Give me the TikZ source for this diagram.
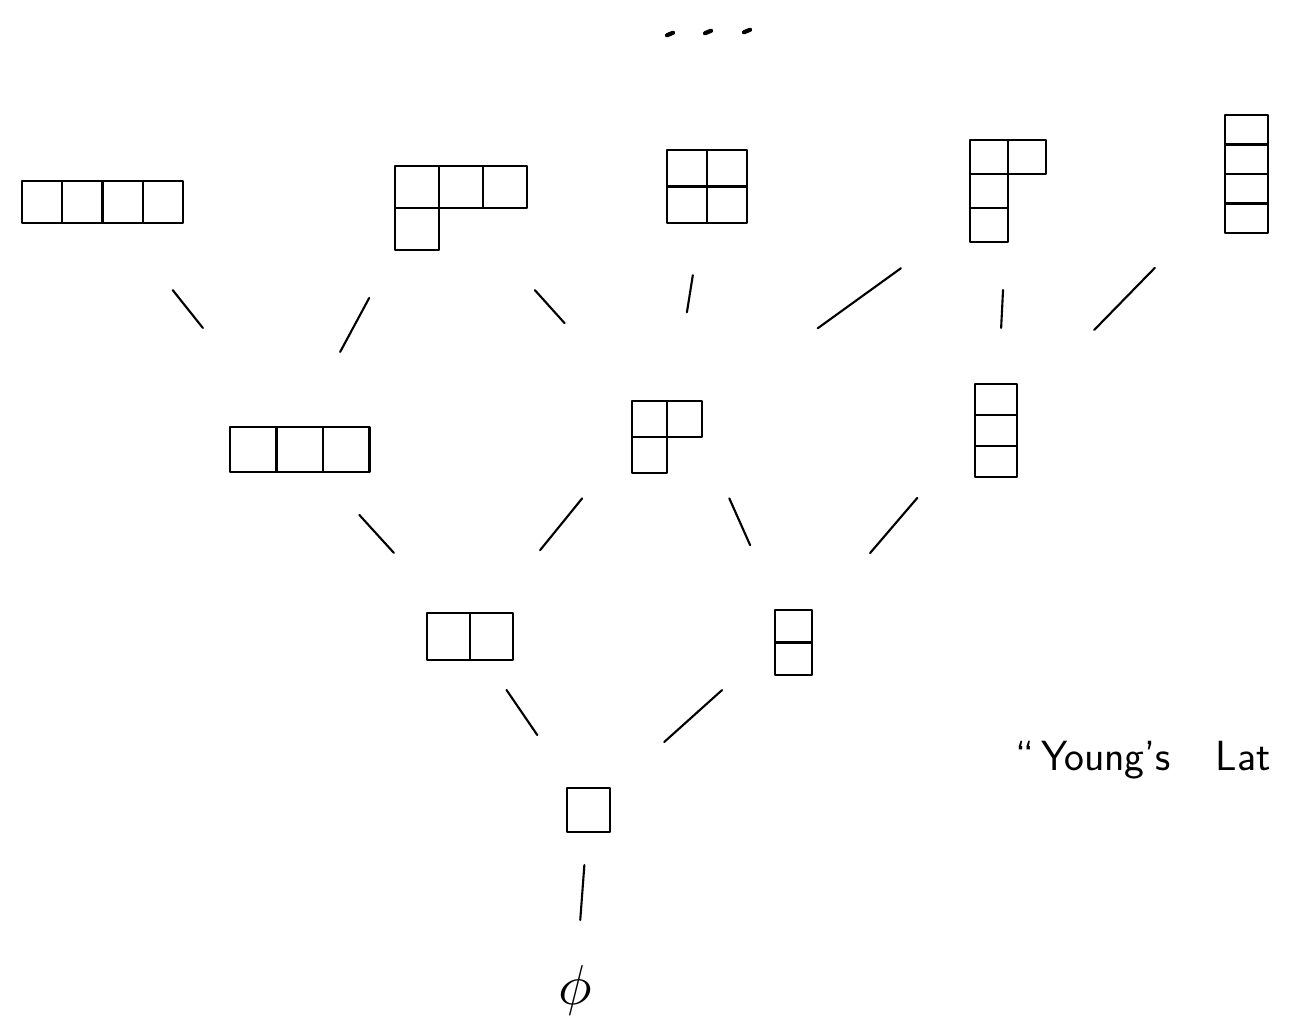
\documentclass[tikz,border=0pt]{standalone}
\usepackage{amsmath}
\usepackage{amssymb}
\usetikzlibrary{calc}

\tikzset{
  diag/.style={inner sep=0pt, outer sep=0pt, anchor=north west},
  cell/.style={draw, line width=1.2pt, line join=round},
  link/.style={line width=1.2pt, line cap=round},
}

% boxes of a Young diagram, hung from the node's top left corner
\newcommand{\cells}[4]{%
  \foreach \len [count=\row] in {#4}
    \foreach \col in {1,...,\len}
      \draw[cell] ([xshift={(\col-1)*#2cm}, yshift={-(\row-1)*#3cm}]#1.north west) rectangle ++(#2,-#3);
}

\begin{document}
\begin{tikzpicture}
\useasboundingbox (0,0) rectangle (25.82,-20.72);

% level 4
\node[diag, minimum width=3.22cm, minimum height=0.84cm] (n4) at (0.44,-3.62) {};
\node[diag, minimum width=2.64cm, minimum height=1.68cm] (n31) at (7.9,-3.32) {};
\node[diag, minimum width=1.6cm, minimum height=1.46cm] (n22) at (13.34,-3.0) {};
\node[diag, minimum width=1.52cm, minimum height=2.04cm] (n211) at (19.4,-2.8) {};
\node[diag, minimum width=0.86cm, minimum height=2.36cm] (n1111) at (24.5,-2.3) {};
\cells{n4}{0.805}{0.84}{4}
\cells{n31}{0.88}{0.84}{3,1}
\cells{n22}{0.8}{0.73}{2,2}
\cells{n211}{0.76}{0.68}{2,1,1}
\cells{n1111}{0.86}{0.59}{1,1,1,1}

% level 3
\node[diag, minimum width=2.79cm, minimum height=0.9cm] (n3) at (4.6,-8.54) {};
\node[diag, minimum width=1.4cm, minimum height=1.44cm] (n21) at (12.64,-8.02) {};
\node[diag, minimum width=0.84cm, minimum height=1.86cm] (n111) at (19.5,-7.68) {};
\cells{n3}{0.93}{0.9}{3}
\cells{n21}{0.7}{0.72}{2,1}
\cells{n111}{0.84}{0.62}{1,1,1}

% level 2
\node[diag, minimum width=1.72cm, minimum height=0.94cm] (n2) at (8.54,-12.26) {};
\node[diag, minimum width=0.74cm, minimum height=1.3cm] (n11) at (15.5,-12.2) {};
\cells{n2}{0.86}{0.94}{2}
\cells{n11}{0.74}{0.65}{1,1}

% level 1 and the empty diagram
\node[diag, minimum width=0.86cm, minimum height=0.88cm] (n1) at (11.34,-15.76) {};
\cells{n1}{0.86}{0.88}{1}
\node[scale=3.2] (n0) at (11.5,-19.8) {$\phi$};

% links between levels
\foreach \a/\b/\s/\e in {n4/n3/.356/.509, n31.south west/n3.north/.271/.576,
    n31/n21/.359/.503, n22/n21/.354/.502, n211/n21/.314/.558,
    n211/n111/.413/.572, n1111/n111/.366/.608,
    n3/n2/.350/.553, n21.west/n2/.3075/.5675, n21.east/n11/.2985/.526,
    n111.west/n11/.318/.578,
    n2/n1/.308/.568, n11.west/n1/.284/.594,
    n1/n0/.306/.611}
  \draw[link] ($(\a)!\s!(\b)$) -- ($(\a)!\e!(\b)$);

% and so on upwards
\foreach \x/\y in {13.4/-0.68, 14.16/-0.64, 14.94/-0.62}
  \draw[line width=2.4pt, line cap=round] (\x,\y) ++(-0.06,-0.025) -- ++(0.12,0.05);

\node[anchor=base west, font=\sffamily\fontsize{24}{28}\selectfont, inner sep=0pt] (title) at (20.3,-15.4) {``\,Young's\hspace{0.9cm}Lat};
\end{tikzpicture}
\end{document}
